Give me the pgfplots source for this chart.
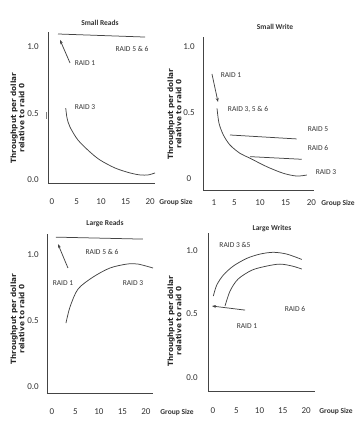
\documentclass[border=0pt]{standalone}
\usepackage{pgfplots}
\pgfplotsset{compat=1.18}
\usetikzlibrary{arrows.meta}
\usepackage{fontspec}
\setmainfont{Carlito}
\newfontfamily\labfont{DejaVu Sans}
\definecolor{ink}{HTML}{333333}
\definecolor{ln}{HTML}{444444}
\pgfplotsset{
  panel/.style={
    scale only axis, anchor=south west,
    axis lines=left, axis line style={-, ln, line width=0.7pt},
    major tick length=0pt,
    tick label style={font=\fontsize{9}{10}\selectfont, text=ink, anchor=center},
    xtick={0,5,10,15,20}, xticklabels={0,5,10,15,20},
    ytick={0,0.5,1}, yticklabels={0.0,0.5,1.0},
    clip=false,
  },
  crv/.style={ln, line width=0.75pt, smooth, no marks},
  arr/.style={ln, line width=0.75pt, no marks, -{Stealth[length=4pt,width=3pt]}},
}
\tikzset{lab/.style={font=\fontsize{7.5}{8.5}\selectfont, text=ink, inner sep=0pt},
  ttl/.style={font=\bfseries\fontsize{7.5}{9}\selectfont, text=ink, inner sep=0pt},
  gs/.style={font=\bfseries\fontsize{7.5}{9}\selectfont, text=ink, inner sep=0pt},
  yl/.style={font=\labfont\bfseries\fontsize{7.3}{8.3}\selectfont, rotate=90, align=center, inner sep=0pt, text=black!85}}
\begin{document}
\begin{tikzpicture}
\useasboundingbox (0,0) rectangle (360pt,423pt);
% Panel 1: Small Reads
\begin{axis}[panel, at={(48pt,240pt)}, width=107pt, height=150.6pt,
  xmin=-0.82, xmax=21.0, ymin=-0.0226, ymax=1.11,
  xticklabel style={yshift=-19pt}, yticklabel style={xshift=-15pt}]
\addplot[ln, line width=0.75pt, no marks] coordinates {(1.22,1.098) (18.98,1.075)};
\addplot[arr] coordinates {(3.67,0.88) (1.63,1.053)};
\addplot[crv] coordinates {(2.8,0.541) (3.06,0.466) (3.67,0.398) (5.3,0.30) (7.76,0.21) (9.8,0.150) (12.86,0.09) (15.9,0.053) (17.96,0.038) (19.6,0.038) (21.0,0.053)};
\addplot[gray, line width=0.6pt, no marks] coordinates {(-1.22,0.459) (-1.22,0.511)};
\end{axis}
% Panel 2: Small Write
\begin{axis}[panel, at={(203pt,233pt)}, width=110.9pt, height=153pt,
  xmin=-1.11, xmax=20.5, ymin=-0.0886, ymax=1.070,
  xtick={1,5,10,15,20}, xticklabels={1,5,10,15,20},
  yticklabels={0,0.5,1.0},
  xticklabel style={yshift=-13pt}, yticklabel style={xshift=-14pt}]
\addplot[crv] coordinates {(1.62,0.530) (2.01,0.417) (2.86,0.328) (4.15,0.252) (6.10,0.189) (8.05,0.152) (11.31,0.088) (14.54,0.038) (17.15,0.017) (19.11,0.025)};
\addplot[ln, line width=0.75pt, no marks] coordinates {(4.15,0.328) (17.15,0.298)};
\addplot[ln, line width=0.75pt, no marks] coordinates {(8.05,0.164) (18.13,0.144)};
\addplot[arr] coordinates {(0.64,0.790) (1.81,0.578)};
\end{axis}
% Panel 3: Large Reads
\begin{axis}[panel, at={(47pt,30pt)}, width=106pt, height=158.9pt,
  xmin=-1.06, xmax=21.5, ymin=-0.045, ymax=1.159,
  xticklabel style={yshift=-19pt}, yticklabel style={xshift=-14pt}]
\addplot[ln, line width=0.75pt, no marks] coordinates {(0.85,1.136) (19.36,1.121)};
\addplot[arr] coordinates {(3.4,0.902) (1.28,1.083)};
\addplot[crv] coordinates {(2.98,0.485) (3.83,0.606) (5.53,0.742) (8.72,0.833) (12.34,0.902) (15.96,0.932) (18.3,0.932) (21.5,0.902)};
\end{axis}
% Panel 4: Large Writes
\begin{axis}[panel, at={(208pt,32pt)}, width=106.9pt, height=158pt,
  xmin=-1.08, xmax=21.9, ymin=-0.106, ymax=1.138,
  xticklabel style={yshift=-20pt}, yticklabel style={xshift=-16pt}]
\addplot[crv] coordinates {(0.06,0.641) (0.80,0.728) (2.22,0.807) (4.37,0.878) (7.25,0.938) (10.1,0.972) (12.97,0.986) (15.85,0.972) (19.08,0.930)};
\addplot[crv] coordinates {(2.58,0.563) (3.66,0.681) (5.38,0.775) (8.39,0.846) (11.6,0.878) (14.4,0.893) (17.0,0.878) (19.1,0.854)};
\addplot[arr] coordinates {(6.88,0.531) (-0.22,0.563)};
\end{axis}
% Titles
\node[ttl] at (100pt,400pt) {Small Reads};
\node[ttl] at (275pt,396pt) {Small Write};
\node[ttl] at (105pt,199pt) {Large Reads};
\node[ttl] at (272pt,194pt) {Large Writes};
% Y labels
\node[yl] at (17.5pt,305pt) {Throughput per dollar\\relative to raid 0};
\node[yl] at (174.5pt,309pt) {Throughput per dollar\\relative to raid 0};
\node[yl] at (17.5pt,104pt) {Throughput per dollar\\relative to raid 0};
\node[yl] at (174.5pt,102pt) {Throughput per dollar\\relative to raid 0};
% Group Size
\node[gs] at (176pt,221pt) {Group Size};
\node[gs] at (338pt,220pt) {Group Size};
\node[gs] at (177pt,11pt) {Group Size};
\node[gs] at (336pt,12pt) {Group Size};
% Panel 1 labels
\node[lab] at (85pt,360pt) {RAID 1};
\node[lab] at (132pt,374pt) {RAID 5 \& 6};
\node[lab] at (85pt,316pt) {RAID 3};
% Panel 2 labels
\node[lab] at (231pt,348pt) {RAID 1};
\node[lab] at (248pt,314pt) {RAID 3, 5 \& 6};
\node[lab] at (318pt,294pt) {RAID 5};
\node[lab] at (318pt,275pt) {RAID 6};
\node[lab] at (326pt,251pt) {RAID 3};
% Panel 3 labels
\node[lab] at (63pt,140pt) {RAID 1};
\node[lab] at (102pt,171pt) {RAID 5 \& 6};
\node[lab] at (133pt,140pt) {RAID 3};
% Panel 4 labels
\node[lab] at (235pt,178pt) {RAID 3 \&5};
\node[lab] at (295pt,114pt) {RAID 6};
\node[lab] at (247pt,97pt) {RAID 1};
\end{tikzpicture}
\end{document}
